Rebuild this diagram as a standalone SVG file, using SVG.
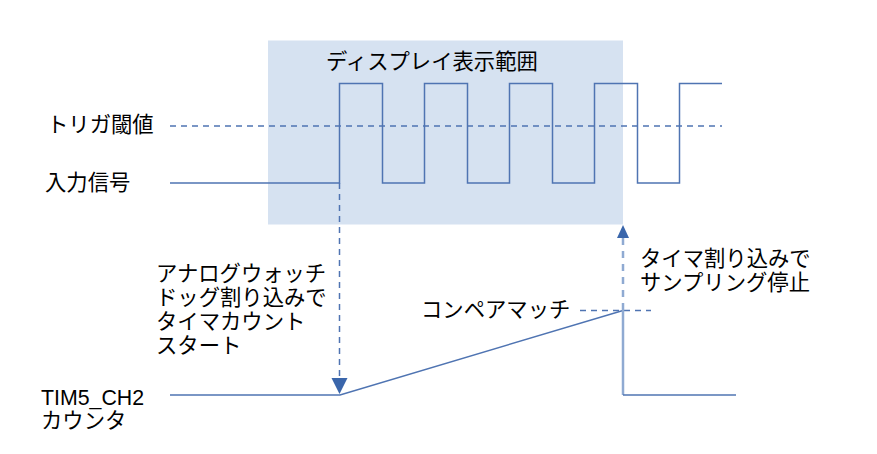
<svg xmlns="http://www.w3.org/2000/svg" width="877" height="454" viewBox="0 0 877 454">
<style>
text{font-family:"Liberation Sans","Noto Sans CJK JP",sans-serif;font-size:21.33px;fill:#000}
.ja{font-family:"Noto Sans CJK JP","Liberation Sans",sans-serif}
.sig{fill:none;stroke:#4F74B2;stroke-width:1.5}
.dash{fill:none;stroke:#4F74B2;stroke-width:1.5;stroke-dasharray:6 5}
.light{fill:none;stroke:#8FAAD2;stroke-width:2.5}
.lightdash{fill:none;stroke:#8FAAD2;stroke-width:2.5;stroke-dasharray:7 6}
.head{fill:#3A66AB}
</style>
<rect id="display-area" x="268" y="40.5" width="355" height="184" fill="#D6E2F1"/>
<g id="labels">
<text class="ja" x="326" y="69">ディスプレイ表示範囲</text>
<text class="ja" x="47" y="132">トリガ閾値</text>
<text class="ja" x="45" y="190">入力信号</text>
<text x="41" y="405">TIM5_CH2</text>
<text class="ja" x="41" y="428">カウンタ</text>
<text class="ja" x="156" y="281">アナログウォッチ</text>
<text class="ja" x="156" y="305">ドッグ割り込みで</text>
<text class="ja" x="156" y="329">タイマカウント</text>
<text class="ja" x="156" y="353">スタート</text>
<text class="ja" x="421" y="317">コンペアマッチ</text>
<text class="ja" x="640" y="266">タイマ割り込みで</text>
<text class="ja" x="640" y="290">サンプリング停止</text>
</g>
<g id="connectors">
<line class="dash" x1="170" y1="126" x2="722" y2="126"/>
<polyline class="sig" points="170,183 339.5,183 339.5,83.5 382.5,83.5 382.5,183 424.5,183 424.5,83.5 467.5,83.5 467.5,183 509.5,183 509.5,83.5 552.5,83.5 552.5,183 594.5,183 594.5,83.5 637.5,83.5 637.5,183 679.5,183 679.5,83.5 722,83.5"/>
<line class="dash" x1="339.5" y1="183" x2="339.5" y2="379"/>
<polygon class="head" points="331.5,378 347.5,378 339.5,394"/>
<polyline class="sig" points="170,395 340,395 623,310.5"/>
<line class="dash" x1="580" y1="310.5" x2="651" y2="310.5"/>
<line class="light" x1="623" y1="310" x2="623" y2="395"/>
<line class="sig" x1="623" y1="395" x2="736" y2="395"/>
<line class="lightdash" x1="623" y1="310" x2="623" y2="238"/>
<polygon class="head" points="617,238 629,238 623,225"/>
</g>
</svg>
